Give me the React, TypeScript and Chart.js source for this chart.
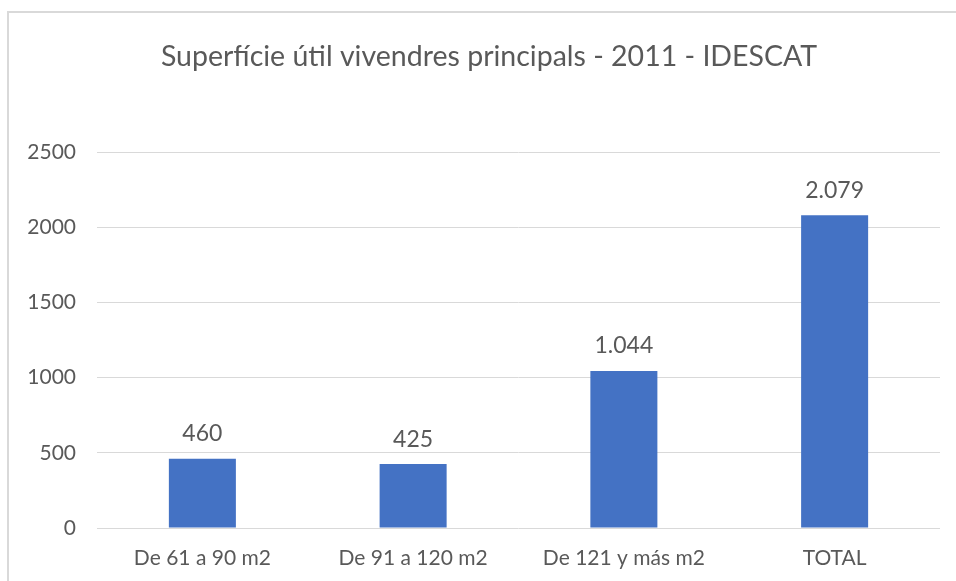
import React, { useEffect, useRef } from "react";
import { Chart, registerables } from "chart.js";

Chart.register(...registerables);

const categories = ["De 61 a 90 m2", "De 91 a 120 m2", "De 121 y más m2", "TOTAL"];
const values = [460, 425, 1044, 2079];
const yTicks = [0, 500, 1000, 1500, 2000, 2500];
const title = "Superfície útil vivendres principals - 2011 - IDESCAT";

const FONT = "Lato, 'Open Sans', sans-serif";
const TEXT = "#595959";

function fmt(v: number): string {
  const s = String(Math.round(v));
  return s.replace(/\B(?=(\d{3})+(?!\d))/g, ".");
}

const dataLabels = {
  id: "dataLabels",
  afterDatasetsDraw(chart: any) {
    const ctx = chart.ctx;
    const meta = chart.getDatasetMeta(0);
    ctx.save();
    ctx.font = `23px ${FONT}`;
    ctx.fillStyle = TEXT;
    ctx.textAlign = "center";
    ctx.textBaseline = "middle";
    meta.data.forEach((el: any, i: number) => {
      ctx.fillText(fmt(values[i]), el.x, el.y - 25);
    });
    ctx.restore();
  },
};

const titlePlugin = {
  id: "customTitle",
  afterDraw(chart: any) {
    const ctx = chart.ctx;
    ctx.save();
    ctx.font = `28.5px ${FONT}`;
    ctx.fillStyle = TEXT;
    ctx.textAlign = "center";
    ctx.textBaseline = "middle";
    ctx.fillText(title, 489, 57);
    ctx.restore();
  },
};

export default function App() {
  const ref = useRef<HTMLCanvasElement>(null);
  useEffect(() => {
    document.body.style.margin = "0";
    const chart = new Chart(ref.current!, {
      type: "bar",
      data: {
        labels: categories,
        datasets: [
          {
            data: values,
            backgroundColor: "#4472C4",
            borderWidth: 0,
            categoryPercentage: 1,
            barPercentage: 0.318,
          },
        ],
      },
      options: {
        animation: false,
        responsive: false,
        layout: { padding: { left: 0, right: 16, top: 152, bottom: 0 } },
        plugins: {
          legend: { display: false },
          tooltip: { enabled: false },
          title: { display: false },
        },
        scales: {
          x: {
            grid: { display: false, drawTicks: false },
            border: { display: false },
            ticks: { color: TEXT, font: { family: FONT, size: 21 }, padding: 18 },
            afterFit(scale: any) {
              scale.height = 53;
            },
          },
          y: {
            min: 0,
            max: 2500,
            grid: { color: "#d9d9d9", lineWidth: 1, drawTicks: false },
            border: { display: false },
            afterBuildTicks(scale: any) {
              scale.ticks = yTicks.map((v) => ({ value: v }));
            },
            ticks: {
              color: TEXT,
              font: { family: FONT, size: 21 },
              padding: 21,
              callback: (v: any) => String(v),
            },
            afterFit(scale: any) {
              scale.width = 97;
            },
          },
        },
      },
      plugins: [dataLabels, titlePlugin],
    });
    return () => chart.destroy();
  }, []);
  return (
    <div style={{ position: "relative", width: 956, height: 581, overflow: "hidden", background: "#fff" }}>
      <div
        style={{
          position: "absolute",
          left: 7,
          top: 11,
          width: 1000,
          height: 1000,
          border: "2px solid #d9d9d9",
          boxSizing: "border-box",
        }}
      />
      <canvas ref={ref} width={956} height={581} style={{ position: "absolute", left: 0, top: 0 }} />
    </div>
  );
}
